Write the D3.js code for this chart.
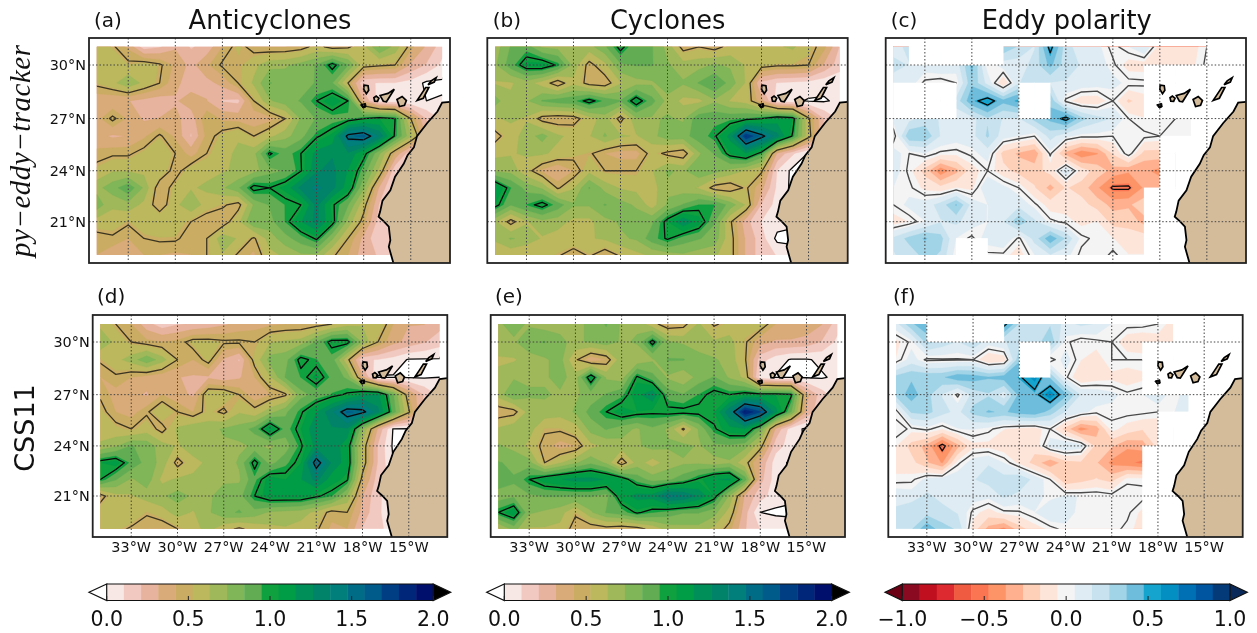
<!DOCTYPE html>
<html><head><meta charset="utf-8">
<script src="https://cdn.jsdelivr.net/npm/d3@7"></script>
<style>html,body{margin:0;background:#fff}svg{display:block;font-family:"DejaVu Sans",sans-serif;filter:blur(0.45px)}</style>
</head><body><svg id="c" width="1257" height="633"></svg>
<script>
const N = NaN;
const lons = d3.range(-35, -12);
const lats = d3.range(31, 18, -1);
const lonTicks = [-33,-30,-27,-24,-21,-18,-15];
const latTicks = [21,24,27,30];

const anticyclonesPy = [
[.60,.52,.40,.15,.20,.30,.20,.25,.42,.55,.45,.42,.42,.45,.55,.45,.48,.60,.85,.70,.45,.30,.15],
[.62,.58,.53,.58,.52,.40,.28,.40,.52,.50,.60,.70,.72,.78,.85,1.05,.85,.55,.52,.50,.30,.20,.08],
[.53,.60,.72,.60,.50,.35,.25,.28,.35,.50,.65,.85,.80,.80,.85,.85,.50,.12,.10,.10,.06,-.02,-.02],
[.35,.33,.32,.28,.25,.30,.38,.32,.20,.18,.50,.72,.80,.85,1.0,1.12,1.0,.30,.05,.03,.01,0,.01],
[.38,.53,.40,.30,.32,.35,.25,.50,.40,.38,.35,.38,.50,.75,.85,.90,.92,1.0,1.05,1.0,.50,.20,.08],
[.35,.30,.32,.40,.52,.40,.20,.45,.55,.62,.50,.60,.70,.80,.98,1.08,1.55,1.62,1.35,.98,.65,.30,.15],
[.45,.48,.48,.55,.62,.50,.38,.50,.60,.65,.70,1.02,.90,1.0,1.2,1.25,1.25,1.05,.75,.40,.12,.15,.10],
[.55,.62,.62,.60,.60,.45,.58,.60,.62,.65,.70,.80,.85,.99,1.25,1.3,1.15,.90,.60,.12,-.02,.05,.05],
[.70,.80,.92,.72,.42,.55,.62,.65,.72,.82,1.05,1.0,1.08,1.3,1.4,1.3,1.1,.75,.30,.06,.03,.03,.03],
[.80,.65,.70,.60,.42,.60,.72,.58,.52,.45,.75,.85,.95,1.0,1.3,1.02,.85,.55,.20,.05,.03,.03,.03],
[.58,.58,.52,.60,.62,.58,.50,.42,.42,.60,.85,.80,.95,1.15,1.3,1.05,.70,.45,.15,.06,.05,.05,.05],
[.45,.48,.42,.50,.52,.52,.45,.50,.70,.62,.48,.68,.80,.90,1.02,.75,.50,.28,.12,.10,.10,.10,.10],
[.42,.35,.38,.42,.42,.40,.42,.50,.62,.48,.40,.60,.65,.72,.72,.52,.42,.25,.20,.15,.10,.10,.10]];

const cyclonesPy = [
[.68,.85,.90,.72,.70,.68,.70,.82,1.05,.85,.85,.70,.45,.50,.45,.55,.62,.62,.62,.65,.55,.45,.20],
[.72,.90,1.08,1.10,.98,.70,.45,.60,.82,.85,.85,.75,.68,.70,.75,.72,.62,.55,.52,.52,.50,.30,.15],
[.62,.62,.68,.58,.42,.60,.45,.42,.62,.70,.72,.80,.75,.85,.95,.80,.62,.18,.10,.08,.06,.03,.03],
[.78,.65,.72,.85,.90,.92,1.05,.92,.85,1.08,.88,.70,.60,.60,.72,.62,.58,.35,.05,.02,-.01,-.01,.02],
[.62,.65,.62,.45,.42,.44,.58,.68,.45,.72,.72,.75,.72,.92,.92,.92,.95,1.0,1.1,1.05,.52,.20,.08],
[.45,.58,.68,.78,.65,.60,.62,.75,.65,.62,.70,.80,.80,.90,.98,1.2,1.8,1.55,1.3,.98,.55,.20,.05],
[.60,.62,.65,.65,.60,.55,.52,.42,.38,.38,.55,.47,.42,.72,.85,1.05,1.15,.95,.30,.12,-.01,.02,.02],
[.72,.70,.55,.40,.32,.42,.60,.50,.50,.50,.62,.75,.72,.82,.78,.70,.62,.52,.10,-.03,-.02,.02,.02],
[1.15,.95,.80,.72,.48,.62,.85,.70,.62,.60,.58,.72,.68,.62,.45,.42,.52,.35,.08,-.03,.02,.02,.02],
[1.05,.85,.95,1.05,.90,.75,.75,.85,.78,.72,.58,.75,.85,.95,.95,.80,.62,.20,.06,.05,.03,.03,.03],
[.65,.45,.62,.70,.68,.60,.60,.70,.75,.80,.82,1.05,1.25,1.1,.85,.52,.25,.10,.05,.02,.02,.02,.02],
[.65,.75,.70,.62,.58,.62,.62,.65,.72,.75,.90,1.02,.90,.85,.80,.55,.30,.15,-.03,-.03,.02,.02,.02],
[.55,.55,.52,.55,.52,.42,.52,.42,.52,.60,.65,.68,.72,.68,.65,.55,.30,.15,.10,.05,.03,.03,.03]];

const polarityPy = [
[.10,.20,N,N,N,N,N,.35,.25,.15,.55,.20,.10,.08,-.03,.05,.15,-.10,-.15,-.10,0,N,N],
[.20,.15,.10,.15,.10,.40,0,.10,.10,.20,.40,.20,.15,.10,.02,-.10,-.10,-.10,-.12,-.08,.02,N,N],
[.10,.10,-.02,-.05,0,.35,.12,-.15,.15,.25,.15,.15,.12,.10,.08,.03,.02,N,N,N,N,N,N],
[N,N,N,N,.20,.45,.58,.40,.50,N,.35,-.02,-.12,-.12,0,-.18,-.10,N,N,N,N,N,N],
[.08,.12,.20,.15,.10,.12,.25,.15,.15,.30,.40,.55,.30,.20,.15,0,-.05,-.03,0,.02,N,N,N],
[-.05,.35,.35,.15,.10,.12,.28,.10,.05,0,.20,.08,.02,.02,0,0,.02,0,.02,0,N,N,N],
[.10,0,.05,-.02,-.03,.02,.10,-.20,-.28,-.35,.02,-.30,-.45,-.38,-.15,.05,-.20,-.20,N,N,N,N,N],
[.10,-.02,-.20,-.45,-.30,-.10,0,-.12,-.20,-.20,-.12,.15,-.10,-.20,-.30,-.35,-.35,-.40,N,N,N,N,N],
[.05,.02,-.08,-.12,-.05,-.08,.15,.08,0,-.15,-.30,-.15,-.20,-.35,-.52,-.52,-.35,-.30,N,N,N,N,N],
[0,.08,.10,.20,.38,.12,.05,.12,.12,.02,-.10,-.10,-.12,-.20,-.30,-.28,-.20,N,N,N,N,N,N],
[-.10,-.05,.05,.15,.18,.10,.05,.15,.35,.18,.02,-.02,-.08,-.05,-.20,-.20,-.30,N,N,N,N,N,N],
[.18,.30,.38,.30,.05,-.02,.10,.15,-.02,.20,.45,.25,.02,-.02,-.05,-.10,-.10,N,N,N,N,N,N],
[.15,.20,.30,.25,0,N,-.02,-.02,-.10,.05,.15,.08,-.02,-.05,.02,-.05,-.05,N,N,N,N,N,N]];

const anticyclonesCss = [
[.60,.50,.42,.25,.15,.20,.22,.25,.30,.35,.38,.40,.42,.42,.45,.50,.58,.62,.60,.42,.32,.32,.25],
[.72,.60,.50,.45,.42,.45,.55,.55,.52,.52,.50,.62,.65,.68,.85,1.05,1.05,.72,.50,.35,.28,.22,.15],
[.52,.60,.68,.82,.68,.50,.42,.55,.30,.20,.55,.78,.80,1.05,.95,.90,.55,.12,.10,.06,-.01,-.01,-.01],
[.42,.48,.42,.38,.35,.32,.30,.30,.25,.30,.42,.62,.85,.95,1.08,.92,.82,.35,-.01,-.01,-.01,-.01,0],
[.48,.38,.35,.30,.42,.35,.30,.60,.60,.50,.35,.42,.48,.80,.88,.95,1.02,1.15,1.18,.85,.42,.20,.08],
[.55,.42,.38,.48,.62,.50,.42,.55,.47,.62,.55,.70,.82,.98,1.15,1.35,1.6,1.55,1.3,.90,.52,.15,.05],
[.58,.55,.50,.58,.45,.65,.72,.70,.75,.78,.88,1.15,.90,1.05,1.25,1.25,1.25,.75,.30,-.01,-.01,.03,.03],
[.65,.72,.85,.80,.68,.62,.68,.72,.72,.72,.75,.72,.78,.98,1.2,1.25,1.08,.58,.20,-.02,.02,.02,.02],
[1.05,1.10,.92,.80,.70,.45,.60,.65,.68,.75,1.05,.80,.92,1.05,1.6,1.25,1.10,.58,.20,0,.02,.02,.02],
[1.0,.85,.72,.80,.60,.65,.65,.72,.72,.72,.92,1.10,1.05,1.15,1.3,1.10,1.02,.45,.15,.08,.05,.05,.05],
[.45,.60,.62,.68,.72,.78,.72,.72,.78,.80,1.0,1.10,1.10,1.10,1.02,.95,.72,.32,.12,.06,.05,.05,.05],
[.58,.60,.62,.52,.58,.68,.62,.72,.82,.85,.80,.72,.70,.68,.60,.45,.50,.28,.12,.05,.05,.05,.05],
[.55,.55,.48,.42,.42,.50,.58,.68,.55,.48,.55,.60,.62,.58,.52,.40,.42,.20,.12,.08,.05,.05,.05]];

const cyclonesCss = [
[.72,.78,.72,.68,.72,.68,.78,.85,.72,.72,.55,.42,.45,.65,.48,.55,.55,.58,.42,.40,.38,.32,.15],
[.68,.72,.82,.85,.75,.72,.75,.80,.72,.75,1.05,.75,.72,.68,.65,.68,.52,.35,.30,.30,.28,.20,.08],
[.62,.62,.68,.72,.78,.52,.35,.42,.72,.65,.72,.85,.85,.78,.75,.70,.52,.15,.05,-.01,-.01,.02,.03],
[.65,.72,.72,.72,.78,.68,1.1,.72,.68,1.02,.88,.72,.65,.78,.85,.72,.60,.05,-.01,-.01,-.01,-.01,.02],
[.68,.85,.75,.75,.72,.72,.78,.85,.92,1.12,1.25,.90,.85,.95,1.05,1.0,1.05,1.05,1.05,1.02,.35,.15,.05],
[.42,.45,.68,.70,.68,.75,.88,1.0,1.1,1.05,1.02,1.04,1.04,1.04,1.05,1.35,1.9,1.7,1.2,.85,.30,.10,.02],
[.65,.72,.68,.52,.52,.58,.78,.85,.78,.72,.82,.72,.48,.75,.98,1.12,1.15,.85,.30,.05,-.02,.02,.02],
[.75,.70,.60,.45,.38,.42,.60,.65,.70,.72,.78,.75,.78,.72,.82,.82,.78,.55,.15,.06,-.02,.02,.02],
[.85,.82,.78,.50,.62,.72,.82,.72,.42,.68,.58,.68,.72,.72,.68,.72,.55,.30,.05,-.02,.02,.02,.02],
[.92,.85,1.0,1.10,1.15,1.2,1.2,1.15,1.08,.90,.80,.82,.90,1.02,1.15,1.18,.90,.25,.05,.02,.02,.02,.02],
[.78,.82,.82,.85,.85,.85,.85,.80,1.10,1.2,1.2,1.42,1.38,1.25,1.05,.72,.30,.15,.05,.02,.02,.02,.02],
[1.0,1.12,.75,.72,.68,.52,.72,.85,.90,1.02,.95,.90,.85,.85,.78,.58,.25,0,-.02,-.02,.02,.02,.02],
[.62,.78,.62,.62,.60,.44,.42,.45,.42,.45,.55,.68,.70,.70,.60,.45,.22,.10,.08,.05,.03,.03,.03]];

const polarityCss = [
[.12,.35,.45,N,N,N,N,.55,.25,.20,.25,.12,.18,.15,.05,.03,.03,0,-.10,N,N,N,N],
[-.08,.02,.30,.22,.15,.25,.10,.15,.20,.20,.35,.02,-.05,-.02,0,-.12,-.15,-.10,-.08,N,N,N,N],
[-.05,.10,-.02,-.01,-.01,0,-.15,-.12,.35,N,-.05,.10,-.05,-.10,0,0,0,N,N,N,N,N,N],
[.30,.35,.35,.35,.45,.42,.38,.42,.48,.62,.35,.02,-.15,-.10,-.08,-.12,-.08,N,N,N,N,N,N],
[.30,.42,.30,.15,-.02,.20,.25,.10,.40,.45,.65,.40,.15,.12,.08,.02,.05,.12,0,.12,N,N,N],
[-.04,.28,.30,.20,.12,.30,.38,.35,.42,.45,.32,.15,.08,.02,.02,.03,.02,0,.05,.08,N,N,N],
[.05,-.02,.02,-.05,.05,.06,.02,-.05,-.08,-.10,0,-.20,-.42,-.32,-.02,-.10,-.15,-.15,N,N,N,N,N],
[-.05,-.20,-.30,-.55,-.30,-.08,-.08,-.12,-.15,-.12,.10,.15,.10,-.20,-.25,-.35,-.32,-.12,N,N,N,N,N],
[-.10,-.12,-.25,-.38,-.02,.10,.15,.05,-.08,-.20,-.35,-.20,-.18,-.25,-.40,-.45,-.50,N,N,N,N,N,N],
[-.03,-.02,.08,.10,.12,.15,.20,.20,.25,.12,0,-.25,-.20,-.15,-.20,-.02,-.02,N,N,N,N,N,N],
[.12,.10,.18,.12,.10,.10,.08,.18,.12,.10,.02,.06,.05,.05,.03,.05,.03,N,N,N,N,N,N],
[.18,.25,.22,.20,.15,-.02,-.10,-.02,-.01,.05,.15,.10,.02,.01,.03,.02,-.08,N,N,N,N,N,N],
[.22,.25,.45,.30,.25,-.10,-.30,-.40,-.20,-.10,-.03,.03,0,.01,.03,-.02,-.10,N,N,N,N,N,N]];

const countLevels = d3.range(20).map(i => i * 2 / 19);
const polarityLevels = d3.range(20).map(i => -1 + i * 2 / 19);
const countColors = ["#f8e8e5","#f2c9c0","#e8b39e","#d9ab78","#cbac63","#bbb85e","#9fb85a","#80b558","#62ad54","#0fa03f","#009c46","#008f58","#008368","#007f7b","#006c86","#005a8a","#003e84","#00267a","#000f6b"];
const polarityColors = ["#8a0a22","#c01020","#dd2a30","#ef5b41","#fb7553","#fd9468","#feb08f","#fed0b8","#fee5da","#f4f4f4","#e0ecf3","#c8e3ef","#a2d4e7","#6fbddc","#14a4cd","#048fc2","#0070b5","#0055a0","#053a78"];
const coast = [[-12.5,27.95],[-13,27.9],[-13.3,27.4],[-13.95,26.75],[-14.6,26],[-14.8,25.35],[-15.2,24.9],[-15.45,24.4],[-16,23.65],[-16.3,22.85],[-16.8,22.25],[-16.95,21.6],[-17.05,21.3],[-16.7,21],[-16.4,20.7],[-16.3,19.9],[-16.4,19.5],[-16.1,18.5]];
const islands = [
 [[-17.98,28.88],[-17.72,28.85],[-17.68,28.6],[-17.83,28.4],[-18,28.65]],
 [[-17.35,28.18],[-17.2,28.27],[-17.03,28.15],[-17.12,27.97],[-17.3,27.98]],
 [[-16.95,28.3],[-16.45,28.42],[-16.05,28.65],[-16.3,28.3],[-16.55,27.95],[-16.75,27.98]],
 [[-15.88,28.08],[-15.55,28.25],[-15.28,28.02],[-15.4,27.75],[-15.72,27.68]],
 [[-14.6,28.02],[-14.2,28.15],[-13.85,28.75],[-14.05,28.75],[-14.35,28.35]],
 [[-13.9,28.9],[-13.5,29.05],[-13.38,29.3],[-13.7,29.12]]];
const hierro = [[-18.2,27.78],[-17.88,27.86],[-17.85,27.66],[-18.05,27.6]];

const frames = [
 {l:89,r:450,t:38,b:263,y30:65,y21:221.7},{l:487.3,r:847.7,t:38,b:263,y30:65,y21:221.7},{l:885.7,r:1246,t:38,b:263,y30:65,y21:221.7},
 {l:92.7,r:447.3,t:315,b:537,y30:342,y21:496},{l:490.7,r:845,t:315,b:537,y30:342,y21:496},{l:888.3,r:1242.7,t:315,b:537,y30:342,y21:496}];
const fields = [anticyclonesPy,cyclonesPy,polarityPy,anticyclonesCss,cyclonesCss,polarityCss];
const letters = ["(a)","(b)","(c)","(d)","(e)","(f)"];
const letterX = [94,492.7,890.7,97,495,893];
const titles = ["Anticyclones","Cyclones","Eddy polarity"];
const titleX = [270,667.7,1066.7];

const svg = d3.select("#c");
const merc = d => Math.log(Math.tan(Math.PI/4 + d*Math.PI/360));
const nx = lons.length, ny = lats.length;

fields.forEach((rows, pi) => {
  const f = frames[pi];
  const isPol = pi % 3 === 2;
  const x = d3.scaleLinear().domain([-35.5,-12.5]).range([f.l,f.r]);
  const ym = d3.scaleLinear().domain([merc(21),merc(30)]).range([f.y21,f.y30]);
  const y = d => ym(merc(d));
  const g = svg.append("g");
  const proj = d3.geoTransform({point(a,b){ this.stream.point(x(lons[0]+a-0.5), y(lats[0]-(b-0.5))); }});
  const path = d3.geoPath(proj);
  const flat = [];
  const mask = [];
  rows.forEach((r,j) => { const rr = r.slice(); while(rr.length<nx) rr.push(rr[rr.length-1]);
    rr.forEach((v,i) => { flat.push(isNaN(v)?0:v); if(isNaN(v)) mask.push([i,j]); }); });
  const clipId = "clip"+pi, frameId = "fr"+pi;
  const defs = svg.append("defs");
  defs.append("clipPath").attr("id",clipId).append("rect")
    .attr("x",x(lons[0])).attr("y",y(lats[0])).attr("width",x(lons[nx-1])-x(lons[0])).attr("height",y(lats[ny-1])-y(lats[0]));
  defs.append("clipPath").attr("id",frameId).append("rect")
    .attr("x",f.l).attr("y",f.t).attr("width",f.r-f.l).attr("height",f.b-f.t);
  const levels = isPol ? polarityLevels : countLevels;
  const colors = isPol ? polarityColors : countColors;
  const contours = d3.contours().size([nx,ny]);
  const data = g.append("g").attr("clip-path",`url(#${clipId})`);
  colors.forEach((c,k) => {
    data.append("path").attr("d",path(contours.contour(flat,levels[k]))).attr("fill",c).attr("stroke",c).attr("stroke-width",.3);
  });
  const top = isPol ? null : contours.contour(flat,2);
  if(top) data.append("path").attr("d",path(top)).attr("fill","#000");
  const lineLevels = isPol ? [-.5,0,.5] : [0,.5,1,1.5];
  lineLevels.forEach(t => {
    data.append("path").attr("d",path(contours.contour(flat,t))).attr("fill","none")
      .attr("stroke",(isPol&&t===0)?"#4a4a4a":(t===.5&&!isPol)?"#3a3420":"#0a0a0a")
      .attr("stroke-width",(isPol&&t===0)?1.4:1.3).attr("stroke-linejoin","round");
  });
  // cells touching a missing node stay empty
  const cells = new Set();
  mask.forEach(([i,j]) => { [[i-1,j-1],[i,j-1],[i-1,j],[i,j]].forEach(([a,b]) => { if(a>=0&&b>=0&&a<nx-1&&b<ny-1) cells.add(a+","+b); }); });
  cells.forEach(k => { const [a,b] = k.split(",").map(Number);
    const ex = a===nx-2 ? 1.5 : .3, ey = b===0 ? 1.5 : 0;
    g.append("rect").attr("x",x(lons[a])-.3).attr("y",y(lats[b])-.3-ey)
      .attr("width",x(lons[a+1])-x(lons[a])+.3+ex).attr("height",y(lats[b+1])-y(lats[b])+.6+ey).attr("fill","#fff"); });
  // land
  const clipped = g.append("g").attr("clip-path",`url(#${frameId})`);
  const line = d3.line().x(d=>x(d[0])).y(d=>y(d[1]));
  clipped.append("path").attr("d",line(coast.concat([[-12,18],[-12,27.95]]))+"Z").attr("fill","#d4bc9b");
  clipped.append("path").attr("d",line(coast)).attr("fill","none").attr("stroke","#000").attr("stroke-width",1.8);
  islands.forEach(p => clipped.append("path").attr("d",line(p)+"Z").attr("fill","#d4bc9b").attr("stroke","#000").attr("stroke-width",1.7));
  clipped.append("path").attr("d",line(hierro)+"Z").attr("fill","#000").attr("stroke","#000");
  // graticule
  lonTicks.forEach(d => g.append("line").attr("x1",x(d)).attr("x2",x(d)).attr("y1",f.t).attr("y2",f.b).attr("stroke","#444").attr("stroke-dasharray","1.5,2").attr("stroke-width",1));
  latTicks.forEach(d => g.append("line").attr("x1",f.l).attr("x2",f.r).attr("y1",y(d)).attr("y2",y(d)).attr("stroke","#444").attr("stroke-dasharray","1.5,2").attr("stroke-width",1));
  g.append("rect").attr("x",f.l).attr("y",f.t).attr("width",f.r-f.l).attr("height",f.b-f.t).attr("fill","none").attr("stroke","#222").attr("stroke-width",1.8);
  if(pi%3===0) latTicks.forEach(d => g.append("text").attr("x",f.l-3).attr("y",y(d)+5).attr("text-anchor","end").attr("font-size",14.4).attr("fill","#111").text(d+"°N"));
  if(pi>=3) lonTicks.forEach(d => g.append("text").attr("x",x(d)).attr("y",552).attr("text-anchor","middle").attr("font-size",14.4).attr("fill","#111").text((-d)+"°W"));
  g.append("text").attr("x",letterX[pi]).attr("y",pi<3?27:303).attr("font-size",20).attr("fill","#111").text(letters[pi]);
  if(pi<3) g.append("text").attr("x",titleX[pi]).attr("y",28.5).attr("text-anchor","middle").attr("font-size",25.7).attr("fill","#111").text(titles[pi]);
});

svg.append("text").attr("transform","translate(30,151) rotate(-90)").attr("text-anchor","middle").attr("font-family","'Liberation Serif',serif").attr("font-style","italic").attr("font-size",29).attr("textLength",212).attr("lengthAdjust","spacing").attr("fill","#111").text("py\u2212eddy\u2212tracker");
svg.append("text").attr("transform","translate(34,428) rotate(-90)").attr("text-anchor","middle").attr("font-size",27).attr("fill","#111").text("CSS11");

// colour bars
const bars = [
 {a:106.7,b:433.3,l:89,r:450.7,lev:countLevels,col:countColors,under:"#fff",over:"#000",ticks:[0,.5,1,1.5,2]},
 {a:504.3,b:831.7,l:486.7,r:849.3,lev:countLevels,col:countColors,under:"#fff",over:"#000",ticks:[0,.5,1,1.5,2]},
 {a:902.3,b:1230,l:885,r:1247.3,lev:polarityLevels,col:polarityColors,under:"#6b0014",over:"#08295a",ticks:[-1,-.5,0,.5,1]}];
bars.forEach(b => {
  const s = d3.scaleLinear().domain([b.lev[0],b.lev[19]]).range([b.a,b.b]);
  const t=584,h=600.5;
  const g = svg.append("g");
  b.col.forEach((c,k)=> g.append("rect").attr("x",s(b.lev[k])).attr("y",t).attr("width",s(b.lev[k+1])-s(b.lev[k])+.4).attr("height",h-t).attr("fill",c));
  g.append("path").attr("d",`M${b.a},${t}L${b.l},${(t+h)/2}L${b.a},${h}Z`).attr("fill",b.under).attr("stroke","#111").attr("stroke-width",1.2);
  g.append("path").attr("d",`M${b.b},${t}L${b.r},${(t+h)/2}L${b.b},${h}Z`).attr("fill",b.over).attr("stroke","#111").attr("stroke-width",1.2);
  g.append("path").attr("d",`M${b.a},${t}H${b.b}M${b.a},${h}H${b.b}`).attr("stroke","#111").attr("stroke-width",1.2);
  b.ticks.forEach(v=>{
    g.append("line").attr("x1",s(v)).attr("x2",s(v)).attr("y1",h).attr("y2",h-4.5).attr("stroke","#222");
    g.append("text").attr("x",s(v)).attr("y",625.5).attr("text-anchor","middle").attr("font-size",20.5).attr("fill","#111").text(v<0?"\u2212"+(-v).toFixed(1):v.toFixed(1));
  });
});
</script></body></html>
